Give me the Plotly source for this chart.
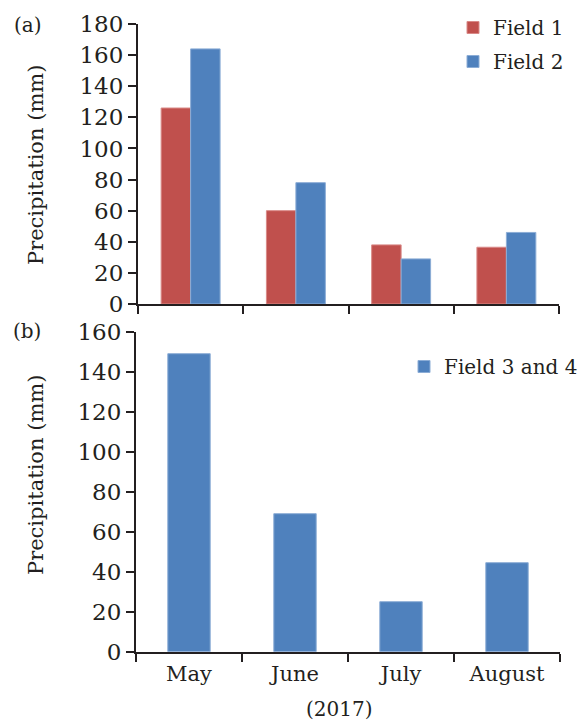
import plotly.graph_objects as go

months = ["May", "June", "July", "August"]
field1 = [126, 60, 38, 36.5]
field2 = [164, 78, 29, 46]
field34 = [149, 69, 25, 44.5]

W, H = 586, 722
OFF = 8  # page body margin offset
RED = "#C0504D"
BLUE = "#4F81BD"
TXT = "#231F20"
FONT = "DejaVu Serif"

def px_x(p):
    return (p - OFF) / W

def px_y(p):
    return 1 - (p - OFF) / H

fig = go.Figure()
fig.add_trace(go.Bar(x=months, y=field1, name="Field 1", marker=dict(color=RED, line=dict(color="#D98A88", width=1)),
                     offset=-0.28, width=0.28, xaxis="x", yaxis="y", legend="legend", legendgroup="a"))
fig.add_trace(go.Bar(x=months, y=field2, name="Field 2", marker=dict(color=BLUE, line=dict(color="#8CADD6", width=1)),
                     offset=0, width=0.28, xaxis="x", yaxis="y", legend="legend", legendgroup="b"))
fig.add_trace(go.Bar(x=months, y=field34, name="Field 3 and 4", marker=dict(color=BLUE, line=dict(color="#8CADD6", width=1)),
                     width=0.4, xaxis="x2", yaxis="y2", legend="legend2"))

axis_common = dict(showline=True, linecolor="#231F20", linewidth=2, ticks="outside", ticklen=8, tickwidth=2,
                   tickcolor="#231F20", showgrid=False, zeroline=False)

def ann(text, x, y, size=20, angle=0):
    return dict(text=text, x=px_x(x), y=px_y(y), xref="paper", yref="paper", showarrow=False,
                xanchor="center", yanchor="middle", textangle=angle, font=dict(size=size, color=TXT))

fig.update_layout(
    width=W, height=H,
    margin=dict(l=0, r=0, t=0, b=0, autoexpand=False),
    paper_bgcolor="white", plot_bgcolor="white",
    barmode="overlay",
    font=dict(family=FONT, color=TXT, size=20),
    xaxis=dict(domain=[px_x(138), px_x(559)], anchor="y", type="category", categoryorder="array",
               categoryarray=months, tickson="boundaries", showticklabels=False, **axis_common),
    yaxis=dict(domain=[px_y(304), px_y(24)], anchor="x", range=[0, 180], dtick=20,
               tickfont=dict(size=23, color=TXT), **axis_common),
    xaxis2=dict(domain=[px_x(136), px_x(560)], anchor="y2", type="category", categoryorder="array",
                categoryarray=months, tickson="boundaries", tickfont=dict(size=21, color=TXT),
                ticklabelstandoff=2, **axis_common),
    yaxis2=dict(domain=[px_y(651.7), px_y(331.7)], anchor="x2", range=[0, 160], dtick=20,
                tickfont=dict(size=23, color=TXT), **axis_common),
    legend=dict(x=px_x(453), y=px_y(8), xanchor="left", yanchor="top", bgcolor="rgba(0,0,0,0)",
                font=dict(size=20, color=TXT), tracegroupgap=5),
    legend2=dict(x=px_x(404), y=px_y(347), xanchor="left", yanchor="top", bgcolor="rgba(0,0,0,0)",
                 font=dict(size=20, color=TXT)),
    annotations=[
        ann("(a)", 28, 25),
        ann("(b)", 27, 331),
        ann("Precipitation (mm)", 36, 165, size=21, angle=-90),
        ann("Precipitation (mm)", 36, 475, size=21, angle=-90),
        ann("(2017)", 339, 709),
    ],
)

fig.write_html("out.html")
